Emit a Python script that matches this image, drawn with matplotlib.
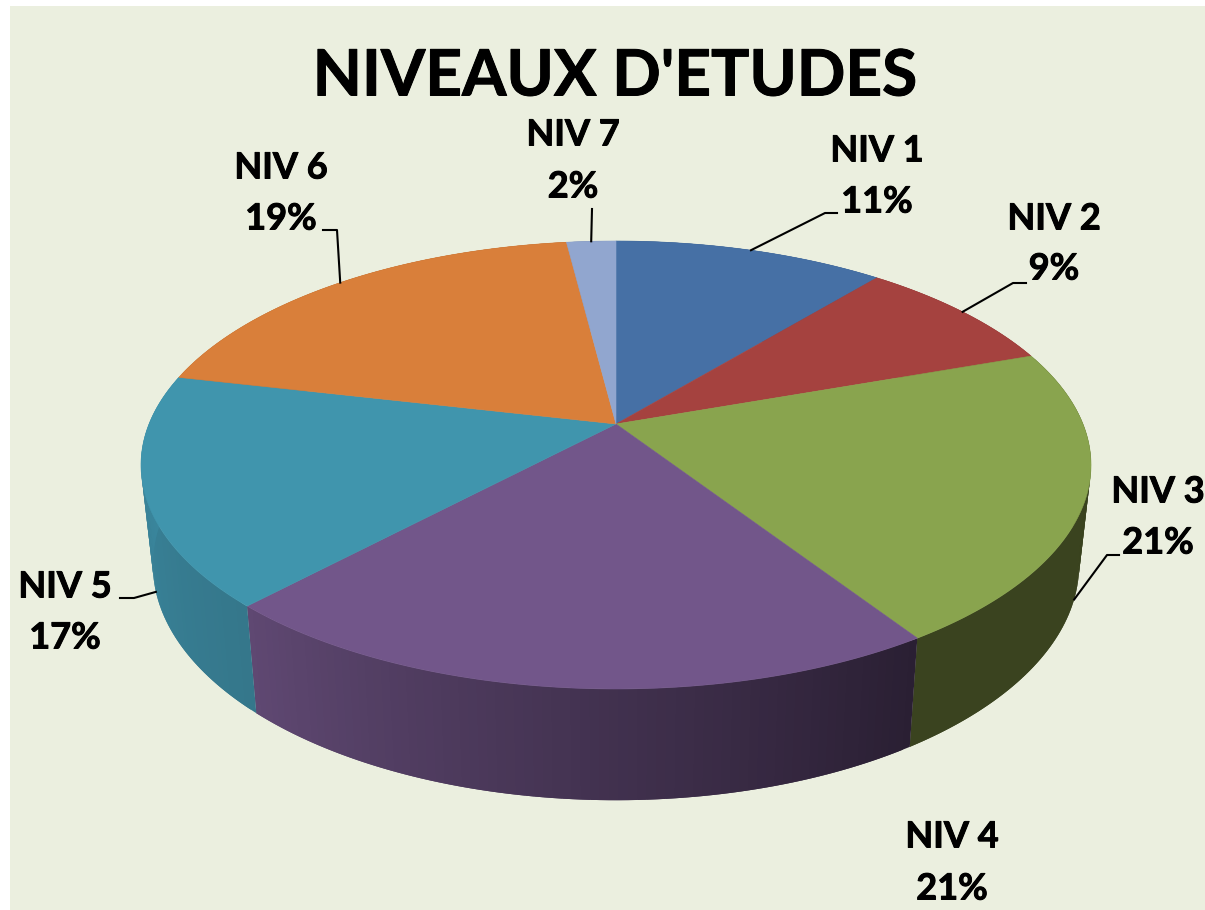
import numpy as np
import matplotlib
matplotlib.use('Agg')
import matplotlib.pyplot as plt
import matplotlib.patheffects as pe
from matplotlib.collections import PolyCollection

title = "NIVEAUX D'ETUDES"
labels = ['NIV 1', 'NIV 2', 'NIV 3', 'NIV 4', 'NIV 5', 'NIV 6', 'NIV 7']
# read from the slice boundaries, the printed labels are these rounded
values = [11.0, 8.6, 21.2, 21.2, 16.6, 19.4, 2.0]

top_colors = ['#4670a5', '#a5423f', '#89a44e', '#72568a', '#4095ad', '#d97f3a', '#91a6cf']
side_left = ['#35547c', '#7c3230', '#3a431f', '#5f4872', '#3b8aa1', '#a3602c', '#6e7e9c']
side_right = ['#35547c', '#7c3230', '#39421e', '#2a1f33', '#35778b', '#a3602c', '#6e7e9c']

# label centres (x, first line y, second line y)
label_pos = [(877, 151, 202), (1054, 219, 269), (1158, 492, 543), (952, 837, 889),
             (65, 587, 638), (281, 168, 219), (573, 135, 187)]
# leader lines: elbow points, the rim end comes from the slice angle
leaders = [[(825, 213), (837, 213)], [(1013, 283), (1026, 283)], [(1107, 555), (1119, 555)],
           None, [(134, 598), (120, 598)], [(337, 230), (323, 230)], [(592, 209)]]
on_lower_rim = [False, False, True, False, True, False, False]

bg = '#ebefdf'
cx, cy = 616, 424
R, S, P = 467, 216.5, 0.183
shrink, stretch, drop = 0.975, 1.05, 98


def upper_rim(t):
    d = 1 + P * np.cos(t)
    return cx + R * np.sin(t) / d, cy - S * np.cos(t) / d


def lower_rim(t):
    x, y = upper_rim(t)
    return cx + (x - cx) * shrink, cy + (y - cy) * stretch + drop


fig = plt.figure(figsize=(12.05, 9.10), dpi=100, facecolor='white')
ax = fig.add_axes([0, 0, 1, 1])
ax.set_xlim(0, 1205)
ax.set_ylim(910, 0)
ax.axis('off')
ax.axhspan(6, 910, xmin=9.5 / 1205, xmax=1, color=bg, lw=0, zorder=0)

edges = np.cumsum([0] + values) / sum(values) * 2 * np.pi
bold = [pe.withStroke(linewidth=0.7, foreground='black')]

# side wall, painted first so the top faces hide the back of it
for i in range(len(values)):
    n = max(int((edges[i + 1] - edges[i]) * 60), 2)
    ts = np.linspace(edges[i], edges[i + 1], n + 1)
    ux, uy = upper_rim(ts)
    lx, ly = lower_rim(ts)
    polys = []
    cols = []
    c0 = np.array(matplotlib.colors.to_rgb(side_left[i]))
    c1 = np.array(matplotlib.colors.to_rgb(side_right[i]))
    for j in range(n):
        # each quad overlaps the next one so no seams show
        k = min(j + 2, n)
        polys.append([(ux[j], uy[j]), (ux[k], uy[k]), (lx[k], ly[k]), (lx[j], ly[j])])
        # the front wall runs right to left along the angle
        f = j / max(n - 1, 1)
        cols.append(c1 * (1 - f) + c0 * f)
    ax.add_collection(PolyCollection(polys, facecolors=cols, edgecolors='none', linewidths=0, zorder=2))

for i in range(len(values)):
    ts = np.linspace(edges[i], edges[i + 1], 120)
    x, y = upper_rim(ts)
    ax.fill(np.r_[cx, x], np.r_[cy, y], color=top_colors[i], lw=0.4, zorder=3)

for i, (name, v) in enumerate(zip(labels, values)):
    px, y1, y2 = label_pos[i]
    ax.text(px, y1, name, ha='center', va='center', fontsize=26, fontweight='bold',
            family='Lato', color='black', zorder=5, path_effects=bold)
    ax.text(px, y2, f'{v:.0f}%', ha='center', va='center', fontsize=26, fontweight='bold',
            family='Lato', color='black', zorder=5, path_effects=bold)
    if leaders[i] is None:
        continue
    mid = (edges[i] + edges[i + 1]) / 2
    start = lower_rim(mid) if on_lower_rim[i] else upper_rim(mid)
    pts = [start] + leaders[i]
    ax.plot([p[0] for p in pts], [p[1] for p in pts], color='black', lw=1.5, zorder=4)

ax.text(615, 77, title, ha='center', va='center', fontsize=46, fontweight='bold',
        family='Lato', color='black', zorder=5, path_effects=bold)

fig.savefig('out.png', dpi=100, facecolor='white')
